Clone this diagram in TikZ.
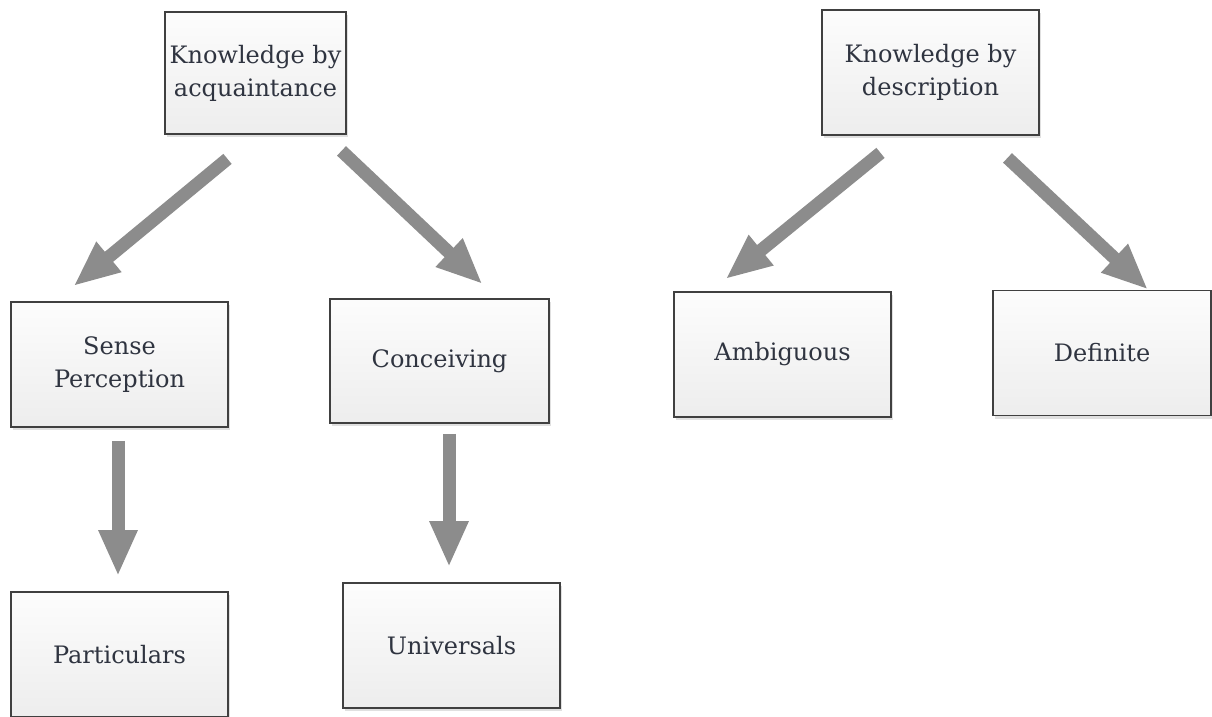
\documentclass[tikz,border=0pt]{standalone}
\usepackage{fontspec}
\setmainfont{DejaVu Serif}
\usetikzlibrary{arrows.meta,shadows,calc}

\definecolor{boxline}{HTML}{404040}
\definecolor{boxtext}{HTML}{2F3440}
\definecolor{arrowgrey}{HTML}{8C8C8C}

\tikzset{
  conceptbox/.style={
    draw=boxline, line width=1.8pt,
    top color=white!99!black, bottom color=white!93!black,
    minimum width=#1, minimum height=125pt,
    inner sep=0pt, align=center, text=boxtext,
    font=\fontsize{24}{33}\selectfont,
    drop shadow={shadow xshift=2pt, shadow yshift=-3pt, fill=black!30, opacity=0.4}
  },
  conceptbox/.default=217pt,
  bigarrow/.style={
    draw=arrowgrey, line width=13pt,
    -{Triangle[length=46pt,width=36pt,fill=arrowgrey]}
  }
}

\begin{document}
\begin{tikzpicture}[x=1pt,y=-1pt]
  \useasboundingbox[fill=white] (0,0) rectangle (1212,717);

  % top-level concepts
  \node[conceptbox=181pt, minimum height=122pt] (kba) at (255.5,73) {Knowledge by\\acquaintance};
  \node[conceptbox] (kbd) at (930.5,72.5) {Knowledge by\\description};

  % second level
  \node[conceptbox] (sp)   at (119.5,364.5) {Sense\\Perception};
  \node[conceptbox=219pt, minimum height=124pt] (conc) at (439.5,361) {Conceiving};
  \node[conceptbox] (amb)  at (782.5,354.5) {Ambiguous};
  \node[conceptbox=218pt] (def) at (1102,353) {Definite};

  % third level
  \node[conceptbox] (part) at (119.5,654.5) {Particulars};
  \node[conceptbox] (univ) at (451.5,645.5) {Universals};

  % connectors
  \draw[bigarrow] ($(kba.south)+(-28,24)$) -- ($(sp.north)+(-46,-15)$);
  \draw[bigarrow] ($(kba.south)+(86,16)$) -- ($(conc.north)+(43,-14)$);
  \draw[bigarrow] ($(kbd.south)+(-50,17)$) -- ($(amb.north)+(-57,-12)$);
  \draw[bigarrow] ($(kbd.south)+(77,22)$) -- ($(def.north)+(46,0)$);
  \draw[bigarrow] ($(sp.south)+(-1.5,13)$) -- ($(part.north)+(-1.5,-15)$);
  \draw[bigarrow] ($(conc.south)+(9.5,10)$) -- ($(univ.north)+(-2.5,-15)$);
\end{tikzpicture}
\end{document}
